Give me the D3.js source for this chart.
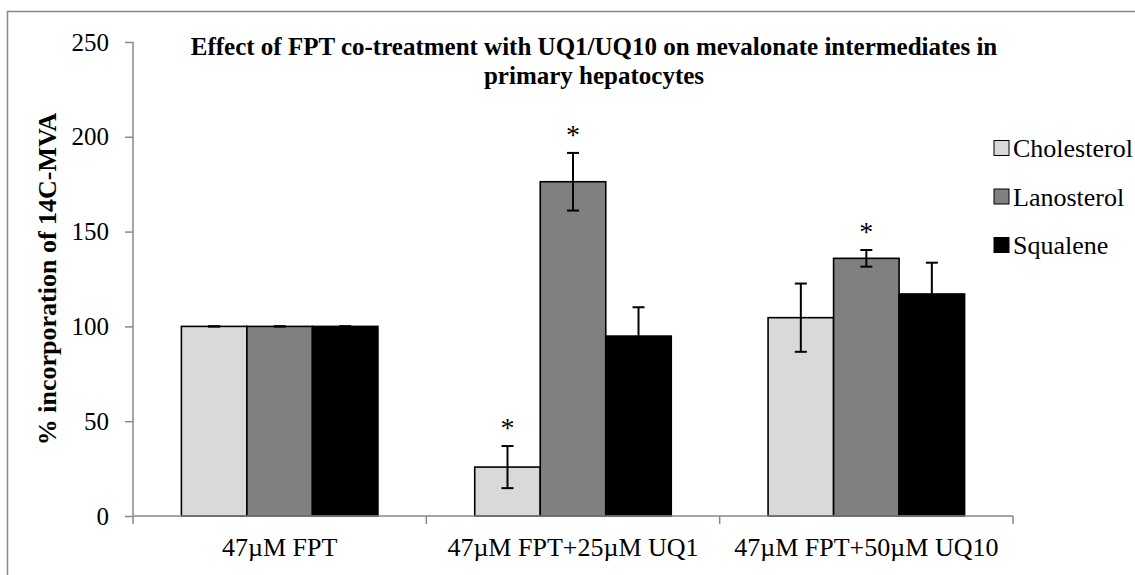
<!DOCTYPE html>
<html>
<head>
<meta charset="utf-8">
<script src="https://cdn.jsdelivr.net/npm/d3@7"></script>
<style>
  body { margin: 0; background: #fff; }
  svg { display: block; font-family: "Liberation Serif", "Times New Roman", serif; }
  svg text { font-family: "Liberation Serif", "Times New Roman", serif; }
</style>
</head>
<body>
<div id="chart"></div>
<script>
// DATA
var categories = ["47\u00b5M FPT", "47\u00b5M FPT+25\u00b5M UQ1", "47\u00b5M FPT+50\u00b5M UQ10"];
var seriesNames = ["Cholesterol", "Lanosterol", "Squalene"];
var cholesterol = [100, 25.8, 104.6];
var lanosterol = [100, 176.3, 135.9];
var squalene = [100, 94.9, 117.1];
var cholesterolErr = [0, 11.1, 18];
var lanosterolErr = [0, 15.2, 4.4];
var squaleneErr = [0, 15.2, 16.5];
// significance stars (1 = star drawn)
var cholesterolStar = [0, 1, 0];
var lanosterolStar = [0, 1, 1];
var squaleneStar = [0, 0, 0];
var yTicks = [0, 50, 100, 150, 200, 250];

var values = [cholesterol, lanosterol, squalene];
var errs = [cholesterolErr, lanosterolErr, squaleneErr];
var stars = [cholesterolStar, lanosterolStar, squaleneStar];
var colors = ["#d9d9d9", "#808080", "#000000"];

var W = 1135, H = 575;
var axisColor = "#898989";

var svg = d3.select("#chart").append("svg")
  .attr("width", W)
  .attr("height", H);

// chart area border
svg.append("rect")
  .attr("x", 7.5).attr("y", 11.5)
  .attr("width", W + 10).attr("height", H + 10)
  .attr("fill", "none")
  .attr("stroke", axisColor)
  .attr("stroke-width", 1.5);

var x0 = d3.scaleBand().domain(categories).range([133, 1013]).padding(0);
var x1 = d3.scaleBand().domain(seriesNames).range([0, x0.bandwidth()]).paddingInner(0).paddingOuter(0.739);
var y = d3.scaleLinear().domain([0, 250]).range([516, 42]);

// bars
var rows = [];
categories.forEach(function(c, ci) {
  seriesNames.forEach(function(s, si) {
    rows.push({cat: c, ser: s, si: si, v: values[si][ci], e: errs[si][ci], star: stars[si][ci]});
  });
});

svg.append("g").selectAll("rect")
  .data(rows)
  .enter().append("rect")
  .attr("x", function(d) { return x0(d.cat) + x1(d.ser); })
  .attr("y", function(d) { return y(d.v); })
  .attr("width", x1.bandwidth())
  .attr("height", function(d) { return y(0) - y(d.v); })
  .attr("fill", function(d) { return colors[d.si]; })
  .attr("stroke", "#000")
  .attr("stroke-width", 1.6);

// error bars
var eg = svg.append("g").attr("stroke", "#000").attr("stroke-width", 2);
rows.forEach(function(d) {
  var cx = x0(d.cat) + x1(d.ser) + x1.bandwidth() / 2;
  eg.append("line").attr("x1", cx).attr("x2", cx).attr("y1", y(d.v + d.e)).attr("y2", y(d.v - d.e));
  eg.append("line").attr("x1", cx - 6).attr("x2", cx + 6).attr("y1", y(d.v + d.e)).attr("y2", y(d.v + d.e));
  eg.append("line").attr("x1", cx - 6).attr("x2", cx + 6).attr("y1", y(d.v - d.e)).attr("y2", y(d.v - d.e));
});

// stars
svg.append("g").selectAll("text")
  .data(rows.filter(function(d) { return d.star; }))
  .enter().append("text")
  .attr("x", function(d) { return x0(d.cat) + x1(d.ser) + x1.bandwidth() / 2; })
  .attr("y", function(d) { return y(d.v + d.e) - 9; })
  .attr("text-anchor", "middle")
  .style("font-size", "28px")
  .text("*");

// y axis
var yAxis = svg.append("g")
  .attr("transform", "translate(133,0)")
  .call(d3.axisLeft(y).tickValues(yTicks).tickSize(8).tickPadding(16));
yAxis.select(".domain").attr("stroke", axisColor).attr("stroke-width", 1.5).attr("d", "M0," + y(250) + "V" + y(0));
yAxis.selectAll(".tick line").attr("stroke", axisColor).attr("stroke-width", 1.5);
yAxis.selectAll(".tick text")
  .style("font-size", "25px")
  .attr("fill", "#000");

// x axis with separator ticks at band edges
var xg = svg.append("g");
xg.append("line")
  .attr("x1", 133).attr("x2", 1013).attr("y1", y(0)).attr("y2", y(0))
  .attr("stroke", axisColor).attr("stroke-width", 1.5);
var edges = categories.map(function(c) { return x0(c); }).concat([x0.range()[1]]);
xg.selectAll("line.sep")
  .data(edges)
  .enter().append("line")
  .attr("class", "sep")
  .attr("x1", function(d) { return d; }).attr("x2", function(d) { return d; })
  .attr("y1", y(0)).attr("y2", y(0) + 8)
  .attr("stroke", axisColor).attr("stroke-width", 1.5);
xg.selectAll("text")
  .data(categories)
  .enter().append("text")
  .attr("x", function(d) { return x0(d) + x0.bandwidth() / 2; })
  .attr("y", 556)
  .attr("text-anchor", "middle")
  .style("font-size", "26px")
  .text(function(d) { return d; });

// y axis title
svg.append("text")
  .attr("transform", "translate(56,279) rotate(-90)")
  .attr("text-anchor", "middle")
  .style("font-size", "26px")
  .style("font-weight", "bold")
  .text("% incorporation of 14C-MVA");

// chart title
var title = svg.append("text")
  .attr("text-anchor", "middle")
  .style("font-size", "25px")
  .style("font-weight", "bold");
title.append("tspan").attr("x", 594).attr("y", 55)
  .text("Effect of FPT co-treatment with UQ1/UQ10 on mevalonate intermediates in");
title.append("tspan").attr("x", 594).attr("y", 84)
  .text("primary hepatocytes");

// legend
var legend = svg.append("g").selectAll("g")
  .data(seriesNames)
  .enter().append("g")
  .attr("transform", function(d, i) { return "translate(994," + (148 + i * 48.5) + ")"; });
legend.append("rect")
  .attr("x", 0).attr("y", -7.5)
  .attr("width", 15).attr("height", 15)
  .attr("fill", function(d, i) { return colors[i]; })
  .attr("stroke", "#000")
  .attr("stroke-width", 1);
legend.append("text")
  .attr("x", 19).attr("y", 9)
  .style("font-size", "26px")
  .text(function(d) { return d; });
</script>
</body>
</html>
